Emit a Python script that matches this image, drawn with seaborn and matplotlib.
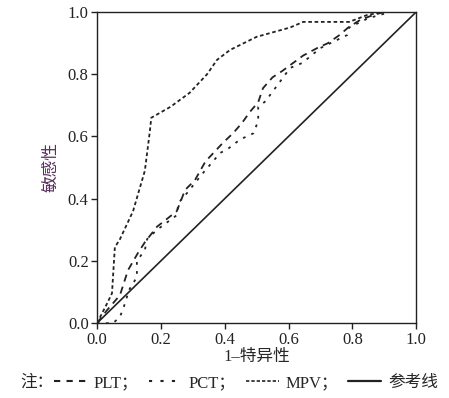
import pandas as pd
import matplotlib.pyplot as plt
import seaborn as sns
from matplotlib.lines import Line2D

# ROC 曲线数据
mpv_x = [0.0, 0.01, 0.03, 0.047, 0.056, 0.072, 0.113, 0.15, 0.166, 0.17, 0.23, 0.29, 0.345, 0.376,
         0.417, 0.50, 0.605, 0.646, 0.79, 0.846, 0.897, 1.0]
mpv_y = [0.0, 0.02, 0.06, 0.096, 0.244, 0.27, 0.36, 0.49, 0.62, 0.66, 0.695, 0.74, 0.80, 0.846,
         0.878, 0.92, 0.95, 0.968, 0.968, 0.99, 1.0, 1.0]

plt_x = [0.0, 0.03, 0.072, 0.097, 0.128, 0.15, 0.188, 0.213, 0.25, 0.276, 0.307, 0.34, 0.364,
         0.395, 0.426, 0.454, 0.48, 0.505, 0.52, 0.55, 0.58, 0.646, 0.69, 0.724, 0.76, 0.787,
         0.824, 0.865, 0.90, 1.0]
plt_y = [0.0, 0.04, 0.09, 0.17, 0.225, 0.26, 0.31, 0.33, 0.36, 0.428, 0.46, 0.52, 0.546,
         0.58, 0.61, 0.643, 0.68, 0.71, 0.755, 0.79, 0.81, 0.86, 0.884, 0.90, 0.926, 0.95,
         0.974, 0.99, 1.0, 1.0]

pct_x = [0.0, 0.05, 0.072, 0.088, 0.10, 0.125, 0.125, 0.15, 0.157, 0.188, 0.25, 0.255, 0.282,
         0.33, 0.386, 0.41, 0.448, 0.49, 0.505, 0.505, 0.533, 0.54, 0.605, 0.643, 0.70, 0.784,
         0.79, 0.85, 0.92, 1.0]
pct_y = [0.0, 0.0, 0.02, 0.064, 0.106, 0.148, 0.2, 0.235, 0.27, 0.30, 0.347, 0.386, 0.418,
         0.48, 0.547, 0.56, 0.59, 0.61, 0.65, 0.695, 0.717, 0.73, 0.82, 0.836, 0.884, 0.926,
         0.95, 0.98, 1.0, 1.0]

ref_x = [0.0, 1.0]
ref_y = [0.0, 1.0]

sns.set_style("white")
plt.rcParams['font.family'] = ['Liberation Serif', 'Noto Sans CJK SC', 'DejaVu Sans']

fig = plt.figure(figsize=(4.49, 3.98), dpi=100)
ax = fig.add_axes([0.216, 0.188, 0.711, 0.782])

lw = 1.3
sns.lineplot(x=plt_x, y=plt_y, ax=ax, sort=False, estimator=None, color='#222222', lw=lw, dashes=False)
ax.lines[-1].set_dashes((4, 3))
sns.lineplot(x=pct_x, y=pct_y, ax=ax, sort=False, estimator=None, color='#222222', lw=lw)
ax.lines[-1].set_dashes((1.5, 3.5))
sns.lineplot(x=mpv_x, y=mpv_y, ax=ax, sort=False, estimator=None, color='#222222', lw=lw)
ax.lines[-1].set_dashes((2, 1.5))
sns.lineplot(x=ref_x, y=ref_y, ax=ax, sort=False, estimator=None, color='#222222', lw=1.2)

ax.set_xlim(0, 1)
ax.set_ylim(0, 1)
ax.set_xticks([0, 0.2, 0.4, 0.6, 0.8, 1.0])
ax.set_yticks([0, 0.2, 0.4, 0.6, 0.8, 1.0])
ax.set_xticklabels(['0.0', '0.2', '0.4', '0.6', '0.8', '1.0'])
ax.set_yticklabels(['0.0', '0.2', '0.4', '0.6', '0.8', '1.0'])
ax.tick_params(axis='both', direction='out', length=4, width=1, labelsize=12, colors='#222222',
               pad=2, bottom=True, left=True)
for s in ax.spines.values():
    s.set_color('#222222')
    s.set_linewidth(1.0)

ax.set_xlabel('1–特异性', fontsize=12, labelpad=1)
ax.set_ylabel('敏感性', fontsize=12, color='#5a2e5e', labelpad=6)

handles = [
    Line2D([], [], color='#222222', lw=1.5, dashes=(3, 3)),
    Line2D([], [], color='#222222', lw=1.5, dashes=(1.5, 4)),
    Line2D([], [], color='#222222', lw=1.2, dashes=(2, 1.2)),
    Line2D([], [], color='#222222', lw=1.6),
]
labels = ['PLT；', 'PCT；', 'MPV；', '参考线']
fig.text(0.045, 0.038, '注：', fontsize=12, va='center')
fig.legend(handles, labels, ncol=4, frameon=False, loc='center left',
           bbox_to_anchor=(0.12, 0.038), fontsize=12, handlelength=2.0,
           handletextpad=0.4, columnspacing=0.6, borderaxespad=0, borderpad=0)

fig.savefig('out.png', dpi=100)
